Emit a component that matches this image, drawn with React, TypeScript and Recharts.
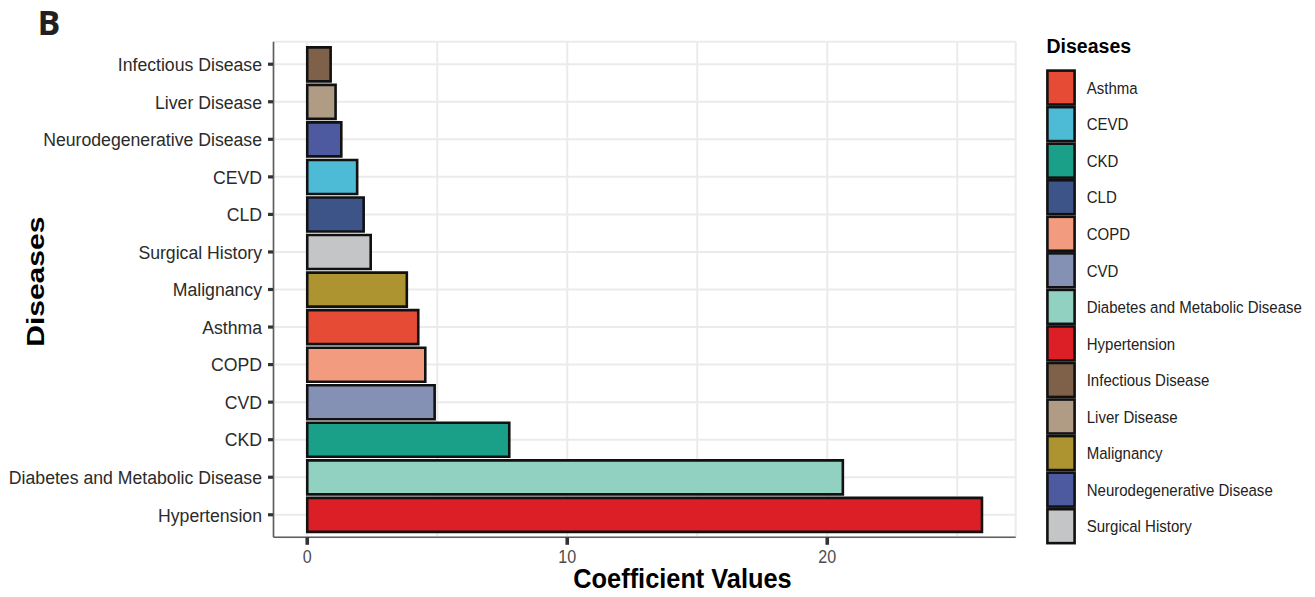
import React from "react";
import {
  BarChart,
  Bar,
  XAxis,
  YAxis,
  CartesianGrid,
  Cell,
} from "recharts";

// ---- data (top to bottom as drawn) ----
const categories = [
  "Infectious Disease",
  "Liver Disease",
  "Neurodegenerative Disease",
  "CEVD",
  "CLD",
  "Surgical History",
  "Malignancy",
  "Asthma",
  "COPD",
  "CVD",
  "CKD",
  "Diabetes and Metabolic Disease",
  "Hypertension",
];
const coefficients = [0.9, 1.09, 1.31, 1.92, 2.17, 2.44, 3.83, 4.27, 4.54, 4.9, 7.77, 20.6, 25.95];

const legendOrder = [
  "Asthma",
  "CEVD",
  "CKD",
  "CLD",
  "COPD",
  "CVD",
  "Diabetes and Metabolic Disease",
  "Hypertension",
  "Infectious Disease",
  "Liver Disease",
  "Malignancy",
  "Neurodegenerative Disease",
  "Surgical History",
];
const legendColors = [
  "#E64B35",
  "#4DBBD5",
  "#1AA088",
  "#3C5488",
  "#F39B7F",
  "#8491B4",
  "#91D1C2",
  "#DC1E26",
  "#7E6148",
  "#B09C85",
  "#AD9431",
  "#4E5AA0",
  "#C4C5C7",
];
const xTicks = [0, 5, 10, 15, 20, 25];
const xTickLabels = [0, 10, 20];

const colorOf: Record<string, string> = {};
legendOrder.forEach((n, i) => (colorOf[n] = legendColors[i]));

const data = categories.map((name, i) => ({ name, value: coefficients[i] }));

const maxVal = Math.max(...coefficients);
const xPad = maxVal * 0.05;

const FONT = "'Liberation Sans', Arial, Helvetica, sans-serif";

const YTick = (props: any) => {
  const { x, y, payload } = props;
  return (
    <g>
      <line x1={x - 5.5} x2={x - 0.5} y1={y} y2={y} stroke="#333" strokeWidth={3.2} />
      <text
        transform={`translate(${x - 11.5},${y + 6.8}) scale(0.93,1)`}
        textAnchor="end"
        fontFamily={FONT}
        fontSize={19}
        fill="#2b2b2b"
      >
        {payload.value}
      </text>
    </g>
  );
};

const XTick = (props: any) => {
  const { x, y, payload } = props;
  if (!xTickLabels.includes(payload.value)) return <g />;
  return (
    <g>
      <line x1={x} x2={x} y1={y} y2={y + 7.5} stroke="#333" strokeWidth={3.6} />
      <text
        transform={`translate(${x},${y + 25.4}) scale(0.92,1)`}
        textAnchor="middle"
        fontFamily={FONT}
        fontSize={17.5}
        fill="#4d4d4d"
      >
        {payload.value}
      </text>
    </g>
  );
};

const PLOT_LEFT = 273.5;
const PLOT_TOP = 41.7;
const PLOT_RIGHT = 1015.7;
const PLOT_BOTTOM = 537.3;
const W = 1315;
const H = 597;
const bandUnit = (PLOT_BOTTOM - PLOT_TOP) / (categories.length + 0.2);
const yPad = bandUnit * 0.1;

const KEY_TOP = 69.3;
const KEY_STEP = 36.55;

export default function App() {
  return (
    <div style={{ position: "relative", width: W - 16, height: H - 16 }}>
      <div style={{ position: "absolute", left: -8, top: -8, width: W, height: H }}>
        <BarChart
          width={W}
          height={H}
          data={data}
          layout="vertical"
          margin={{ top: PLOT_TOP, right: W - PLOT_RIGHT, bottom: 0, left: 0 }}
          barCategoryGap="5%"
        >
          <CartesianGrid stroke="#ebebeb" strokeWidth={2} />
          <XAxis
            type="number"
            domain={[-xPad, maxVal + xPad]}
            ticks={xTicks}
            tick={<XTick />}
            tickLine={false}
            tickSize={0}
            tickMargin={0}
            height={H - PLOT_BOTTOM}
            axisLine={{ stroke: "#5e5e5e", strokeWidth: 1.6 }}
            allowDataOverflow
          />
          <XAxis
            xAxisId="top"
            orientation="top"
            type="number"
            domain={[-xPad, maxVal + xPad]}
            tick={false}
            tickLine={false}
            height={0}
            axisLine={{ stroke: "#5e5e5e", strokeWidth: 1.6 }}
          />
          <YAxis
            type="category"
            dataKey="name"
            width={PLOT_LEFT}
            tick={<YTick />}
            tickLine={false}
            tickSize={0}
            tickMargin={0}
            interval={0}
            padding={{ top: yPad, bottom: yPad }}
            axisLine={{ stroke: "#5e5e5e", strokeWidth: 1.6 }}
          />
          <YAxis
            yAxisId="right"
            orientation="right"
            type="category"
            dataKey="name"
            width={0}
            tick={false}
            tickLine={false}
            axisLine={{ stroke: "#5e5e5e", strokeWidth: 1.6 }}
          />
          <Bar dataKey="value" isAnimationActive={false} stroke="#111" strokeWidth={2.6}>
            {data.map((d) => (
              <Cell key={d.name} fill={colorOf[d.name]} />
            ))}
          </Bar>
        </BarChart>
        <svg
          width={W}
          height={H}
          style={{ position: "absolute", left: 0, top: 0, pointerEvents: "none", overflow: "visible" }}
        >
          <text x={37.5} y={35} fontFamily="'Open Sans', sans-serif" fontWeight={700} fontSize={34} fill="#231f20">
            B
          </text>
          <text
            transform="translate(43.5,281.7) scale(0.82,1) rotate(-90)"
            textAnchor="middle"
            fontFamily={FONT}
            fontWeight={700}
            fontSize={30}
            fill="#000"
          >
            Diseases
          </text>
          <text
            transform="translate(573.3,588.3) scale(0.906,1)"
            fontFamily={FONT}
            fontWeight={700}
            fontSize={28}
            fill="#000"
          >
            Coefficient Values
          </text>
          <text x={1046.5} y={53.3} fontFamily={FONT} fontWeight={700} fontSize={19.5} fill="#000">
            Diseases
          </text>
          {legendOrder.map((name, i) => {
            const top = KEY_TOP + i * KEY_STEP;
            return (
              <g key={name}>
                <rect
                  x={1047.4}
                  y={top + 1.3}
                  width={27.2}
                  height={KEY_STEP - 2.6}
                  fill={legendColors[i]}
                  stroke="#111"
                  strokeWidth={2.6}
                />
                <text
                  transform={`translate(1086.7,${top + KEY_STEP / 2 + 6.2}) scale(0.91,1)`}
                  fontFamily={FONT}
                  fontSize={16.5}
                  fill="#222"
                >
                  {name}
                </text>
              </g>
            );
          })}
        </svg>
      </div>
    </div>
  );
}
